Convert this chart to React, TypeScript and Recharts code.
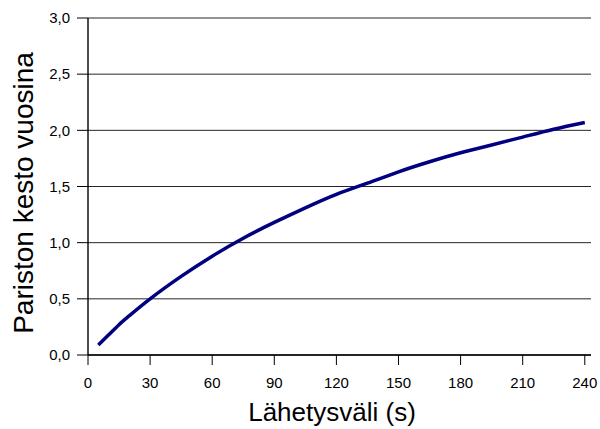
import { LineChart, Line, XAxis, YAxis, CartesianGrid, Label } from 'recharts'

// Lähetysväli (s) ja pariston kesto vuosina, luettu kuvasta
const intervals = [5, 10, 15, 20, 30, 45, 60, 75, 90, 105, 120, 135, 150, 165, 180, 195, 210, 225, 240]
const lifetimes = [0.09, 0.18, 0.27, 0.35, 0.5, 0.7, 0.88, 1.04, 1.18, 1.31, 1.43, 1.53, 1.63, 1.72, 1.8, 1.87, 1.94, 2.01, 2.07]
const xTicks = [0, 30, 60, 90, 120, 150, 180, 210, 240]
const yTicks = [0, 0.5, 1, 1.5, 2, 2.5, 3]

const data = intervals.map((x, i) => ({ x, y: lifetimes[i] }))

const font = '"Liberation Sans", Arial, sans-serif'

export default function App() {
  return (
    <div style={{ position: 'absolute', left: 0, top: 0, width: 600, height: 429, background: '#fff' }}>
      <LineChart width={600} height={429} data={data} margin={{ top: 18, right: 9, left: 0, bottom: 0 }}>
        <CartesianGrid vertical={false} stroke="#000" strokeWidth={1} strokeOpacity={0.85} />
        <XAxis
          dataKey="x"
          type="number"
          domain={[0, 243]}
          ticks={xTicks}
          allowDataOverflow
          height={74}
          tickSize={10}
          tickMargin={12}
          axisLine={{ stroke: '#000', strokeWidth: 1.4 }}
          tickLine={{ stroke: '#000', strokeWidth: 1 }}
          tick={{ fill: '#000', fontSize: 15, fontFamily: font }}
        >
          <Label
            content={() => (
              <text x={332} y={421} textAnchor="middle" fontSize={26} fontFamily={font} fill="#000">
                Lähetysväli (s)
              </text>
            )}
          />
        </XAxis>
        <YAxis
          type="number"
          domain={[0, 3]}
          ticks={yTicks}
          width={88}
          tickSize={11}
          tickMargin={7}
          axisLine={{ stroke: '#000', strokeWidth: 1.4 }}
          tickLine={{ stroke: '#000', strokeWidth: 1 }}
          tick={{ fill: '#000', fontSize: 15, fontFamily: font }}
          tickFormatter={(v: number) => v.toFixed(1).replace('.', ',')}
        >
          <Label
            content={() => (
              <text
                x={33}
                y={193}
                transform="rotate(-90, 33, 193)"
                textAnchor="middle"
                fontSize={28}
                fontFamily={font}
                fill="#000"
              >
                Pariston kesto vuosina
              </text>
            )}
          />
        </YAxis>
        <Line
          type="natural"
          dataKey="y"
          stroke="#000080"
          strokeWidth={3.5}
          dot={false}
          activeDot={false}
          isAnimationActive={false}
        />
      </LineChart>
    </div>
  )
}
